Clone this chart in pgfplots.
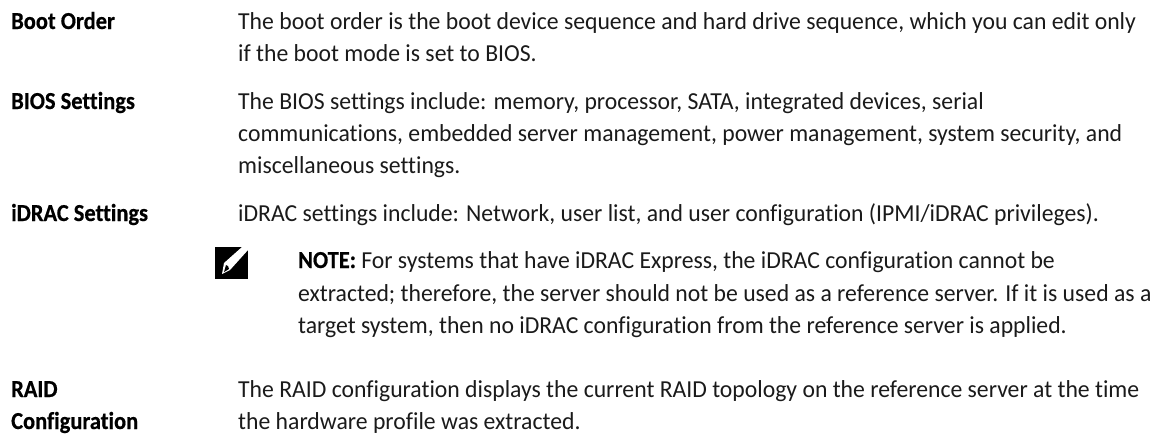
\documentclass[border=0pt]{standalone}
\usepackage{pgfplots}
\pgfplotsset{compat=1.18}
\usepackage{fontspec}
\setmainfont[FakeStretch=0.971,Ligatures=NoCommon,BoldFeatures={FakeStretch=0.92,FakeBold=0.5}]{Carlito}
\definecolor{txt}{HTML}{1A1A1A}
\newcommand{\B}[1]{{\bfseries\textcolor{black}{#1}}}
\tikzset{t/.style={font=\fontsize{24.4}{28}\selectfont,text=txt,anchor=base west,inner sep=0pt}}
\begin{document}
\begin{tikzpicture}[x=1pt,y=1pt]
\begin{axis}[at={(0,0)},anchor=south west,width=1164pt,height=434pt,scale only axis,
  xmin=0,xmax=1164,ymin=0,ymax=434,y dir=reverse,axis lines=none,clip=false]
\addplot[draw=none,forget plot] coordinates {(0,0) (1164,434)};
\node[t] at (axis cs:11,29) {\B{Boot Order}};
\node[t] at (axis cs:238,29) {The boot order is the boot device sequence and hard drive sequence, which you can edit only};
\node[t] at (axis cs:238,61) {if the boot mode is set to BIOS.};
\node[t] at (axis cs:11,109) {\B{BIOS Settings}};
\node[t] at (axis cs:238,109) {The BIOS settings include: memory, processor, SATA, integrated devices, serial};
\node[t] at (axis cs:238,141) {communications, embedded server management, power management, system security, and};
\node[t] at (axis cs:238,173) {miscellaneous settings.};
\node[t] at (axis cs:11,221) {\B{iDRAC Settings}};
\node[t] at (axis cs:238,221) {iDRAC settings include: Network, user list, and user configuration (IPMI/iDRAC privileges).};
\node[t] at (axis cs:298,268) {\B{NOTE:} For systems that have iDRAC Express, the iDRAC configuration cannot be};
\node[t] at (axis cs:298,301) {extracted; therefore, the server should not be used as a reference server. If it is used as a};
\node[t] at (axis cs:298,333) {target system, then no iDRAC configuration from the reference server is applied.};
\node[t] at (axis cs:11,397) {\B{RAID}};
\node[t] at (axis cs:11,429) {\B{Configuration}};
\node[t] at (axis cs:238,397) {The RAID configuration displays the current RAID topology on the reference server at the time};
\node[t] at (axis cs:238,429) {the hardware profile was extracted.};
\fill[black] (axis cs:215,247) rectangle (axis cs:248,279);
\fill[white] (axis cs:222,274) -- (axis cs:224,263) -- (axis cs:242,247) -- (axis cs:248,247) -- (axis cs:248,250) -- (axis cs:230,270) -- cycle;
\fill[black] (axis cs:224,272) -- (axis cs:226,265) -- (axis cs:228,266) -- (axis cs:229,269) -- cycle;
\end{axis}
\end{tikzpicture}
\end{document}
